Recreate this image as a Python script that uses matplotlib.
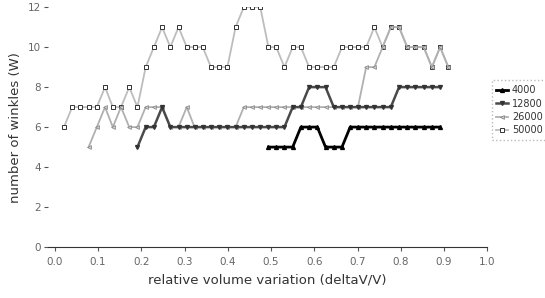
import numpy as np
from matplotlib import pyplot as plt

nan = np.nan

# relative volume variation
dv = [0.021, 0.040, 0.059, 0.078, 0.097, 0.116, 0.134, 0.153, 0.172, 0.191,
      0.210, 0.229, 0.248, 0.267, 0.286, 0.305, 0.323, 0.342, 0.361, 0.380,
      0.399, 0.418, 0.437, 0.456, 0.475, 0.494, 0.512, 0.531, 0.550, 0.569,
      0.588, 0.607, 0.626, 0.645, 0.664, 0.683, 0.701, 0.720, 0.739, 0.758,
      0.777, 0.796, 0.815, 0.834, 0.853, 0.872, 0.891, 0.910]

w4000 = [nan] * 25 + [5, 5, 5, 5, 6, 6, 6, 5, 5, 5,
                      6, 6, 6, 6, 6, 6, 6, 6, 6, 6, 6, 6, nan]
w12800 = [nan] * 9 + [5, 6, 6, 7, 6, 6, 6, 6, 6, 6,
                      6, 6, 6, 6, 6, 6, 6, 6, 6, 7,
                      7, 8, 8, 8, 7, 7, 7, 7, 7, 7,
                      7, 7, 8, 8, 8, 8, 8, 8, nan]
w26000 = [nan] * 3 + [5, 6, 7, 6, 7, 6, 6, 7, 7, 7,
                      6, 6, 7, 6, 6, 6, 6, 6, 6, 7,
                      7, 7, 7, 7, 7, 7, 7, 7, 7, 7,
                      7, 7, 7, 7, 9, 9, 10, 11, 11, 10,
                      10, 10, 9, 10, 9]
w50000 = [6, 7, 7, 7, 7, 8, 7, 7, 8, 7,
          9, 10, 11, 10, 11, 10, 10, 10, 9, 9,
          9, 11, 12, 12, 12, 10, 10, 9, 10, 10,
          9, 9, 9, 9, 10, 10, 10, 10, 11, 10,
          11, 11, 10, 10, 10, 9, 10, 9]

xticks = [0.0, 0.1, 0.2, 0.3, 0.4, 0.5, 0.6, 0.7, 0.8, 0.9, 1.0]
yticks = [0, 2, 4, 6, 8, 10, 12]

fig = plt.figure(dpi=100, figsize=(5.45, 2.98))
ax = fig.add_axes([0.088, 0.171, 0.806, 0.805])

ax.plot(dv, w50000, c='#bdbdbd', lw=1.3, marker='s', ms=2.6,
        mfc='white', mec='#333333', mew=0.7, label='50000', zorder=2)
ax.plot(dv, w26000, c='#b0b0b0', lw=1.3, marker='<', ms=2.8,
        mfc='#cccccc', mec='#808080', mew=0.5, label='26000', zorder=3)
ax.plot(dv, w12800, c='#4a4a4a', lw=1.8, marker='v', ms=2.8,
        mfc='#333333', mec='#333333', label='12800', zorder=4)
ax.plot(dv, w4000, c='black', lw=2.0, marker='^', ms=2.8,
        mfc='black', mec='black', label='4000', zorder=5)

ax.set_xlim(-0.016, 1.0)
ax.set_ylim(0, 12)
ax.set_xticks(xticks)
ax.set_xticklabels(['%.1f' % t for t in xticks])
ax.set_yticks(yticks)
for s in ['top', 'right', 'left']:
    ax.spines[s].set_visible(False)
ax.spines['bottom'].set_color('#333333')
ax.tick_params(axis='both', labelsize=7.5, labelcolor='#666666',
               color='#555555', length=3, width=0.8)
ax.tick_params(axis='x', pad=4)
ax.tick_params(axis='y', pad=2)

ax.set_xlabel('relative volume variation (deltaV/V)', fontsize=9.5,
              color='#333333', labelpad=5)
ax.set_ylabel('number of winkles (W)', fontsize=9.5, color='#333333',
              labelpad=4)

handles, labels = ax.get_legend_handles_labels()
leg = fig.legend(handles[::-1], labels[::-1], loc='center left',
                 bbox_to_anchor=(0.893, 0.63), fontsize=7,
                 handlelength=1.2, handletextpad=0.4, labelspacing=0.35,
                 borderpad=0.5, fancybox=False, framealpha=1)
leg.get_frame().set_edgecolor('#bbbbbb')
leg.get_frame().set_linestyle(':')
for t in leg.get_texts():
    t.set_color('#333333')

plt.savefig('out.png', dpi=100)
